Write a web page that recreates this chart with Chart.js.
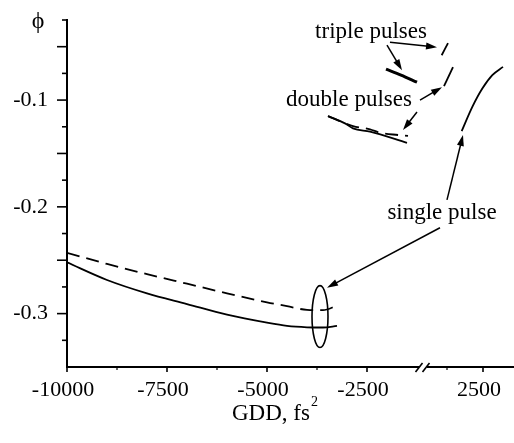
<!DOCTYPE html>
<html lang="en">
<head>
<meta charset="UTF-8">
<title>Phase vs GDD</title>
<script src="https://cdn.jsdelivr.net/npm/chart.js@4.4.0/dist/chart.umd.min.js"></script>
<style>
  body { margin: 0; background: #fff; }
  #chart-container { width: 514px; height: 443px; }
</style>
</head>
<body>
<div id="chart-container"><canvas id="myChart" width="514" height="443"></canvas></div>
<script>
// single pulse branch, negative GDD side (fs^2) and phase
const singleGdd = [-10000, -9000, -8000, -7000, -6000, -5000, -4500, -4000, -3600, -3250];
const singleSolid = [-0.252, -0.2685, -0.281, -0.291, -0.301, -0.3085, -0.3115, -0.3128, -0.313, -0.3115];
const singleDashed = [-0.243, -0.2535, -0.263, -0.272, -0.281, -0.2895, -0.293, -0.2965, -0.2968, -0.2925];
// single pulse branch, positive GDD side
const singleRightGdd = [1967, 2233, 2483, 2733, 3000];
const singleRight = [-0.129, -0.1063, -0.0891, -0.0766, -0.0689];
// double pulses
const doubleSolidGdd = [-3475, -3050, -2850, -2425, -1500];
const doubleSolid = [-0.115, -0.1218, -0.1265, -0.1296, -0.140];
const doubleDashedGdd = [-3475, -2850, -2425, -2175, -1725, -1475];
const doubleDashed = [-0.115, -0.1243, -0.1274, -0.1306, -0.1327, -0.1336];
const doubleRightGdd = [1525, 1750];
const doubleRight = [-0.0869, -0.0692];
// triple pulses
const tripleGdd = [-2025, -1650, -1250];
const triple = [-0.071, -0.0766, -0.0832];
const tripleRightGdd = [1467, 1625];
const tripleRight = [-0.058, -0.0467];

// axis ticks
const xTickValues = [-10000, -7500, -5000, -2500, 2500];
const xMinorTicks = [-8750, -6250, -3750, 1600];
const yTickValues = [-0.3, -0.2, -0.1];

// the x axis is broken between -1100 and 1000 fs^2
const BREAK_AT = -1100;
const BREAK_SHIFT = 2100;
const disp = g => (g < 0 ? g : g - BREAK_SHIFT);
const real = d => (d > BREAK_AT ? d + BREAK_SHIFT : d);

// labels with arrows: [text, gdd, phi]
const labels = [
  ['triple pulses', -2400, -0.0364],
  ['double pulses', -2950, -0.1],
  ['single pulse', 1475, -0.2056]
];
// arrows: [fromGdd, fromPhi, toGdd, toPhi]
const arrows = [
  [-1925, -0.0458, 1350, -0.0505],
  [-2000, -0.0486, -1625, -0.072],
  [-1175, -0.1, 1475, -0.0879],
  [-1250, -0.1112, -1600, -0.128],
  [1425, -0.2196, -3500, -0.2757],
  [1600, -0.1935, 2000, -0.1327]
];
// ellipse around the end of the single pulse branch: [gdd, phi, halfWidthGdd, halfHeightPhi]
const ring = [-3675, -0.3028, 200, 0.029];

const pts = (xs, ys) => xs.map((g, i) => ({ x: disp(g), y: ys[i] }));
const FONT = '"Liberation Serif", "DejaVu Serif", serif';

function line(data, opts) {
  return Object.assign({
    data: data,
    borderColor: '#000',
    borderWidth: 1.8,
    pointRadius: 0,
    fill: false,
    tension: 0.4,
    cubicInterpolationMode: 'monotone'
  }, opts || {});
}

const decor = {
  id: 'decor',
  afterDraw(chart) {
    const ctx = chart.ctx;
    const xs = chart.scales.x, ys = chart.scales.y;
    const { left, right, top, bottom } = chart.chartArea;
    const px = g => xs.getPixelForValue(disp(g));
    const py = v => ys.getPixelForValue(v);
    ctx.save();
    ctx.strokeStyle = '#000';
    ctx.fillStyle = '#000';

    // y ticks every 0.025, longer every 0.05
    ctx.lineWidth = 1.6;
    for (let k = 1; k < 14; k++) {
      const y = py(-k * 0.025);
      const len = k % 2 === 0 ? 10 : 5;
      ctx.beginPath();
      ctx.moveTo(left - len, y);
      ctx.lineTo(left, y);
      ctx.stroke();
    }
    // x ticks
    xTickValues.forEach(g => {
      ctx.beginPath();
      ctx.moveTo(px(g), bottom);
      ctx.lineTo(px(g), bottom + 5);
      ctx.stroke();
    });
    ctx.lineWidth = 1.2;
    xMinorTicks.forEach(g => {
      ctx.beginPath();
      ctx.moveTo(px(g), bottom);
      ctx.lineTo(px(g), bottom + 3);
      ctx.stroke();
    });

    // axis break marks
    const bx = xs.getPixelForValue(BREAK_AT);
    ctx.fillStyle = '#fff';
    ctx.fillRect(bx - 4, bottom - 3, 8, 6);
    ctx.fillStyle = '#000';
    ctx.lineWidth = 1.6;
    [-3.5, 3.5].forEach(o => {
      ctx.beginPath();
      ctx.moveTo(bx + o - 4, bottom + 5);
      ctx.lineTo(bx + o + 3, bottom - 4);
      ctx.stroke();
    });

    // ellipse
    const cx = px(ring[0]), cy = py(ring[1]);
    const rx = Math.abs(px(ring[0] + ring[2]) - cx);
    const ry = Math.abs(py(ring[1] + ring[3]) - cy);
    ctx.lineWidth = 1.6;
    ctx.beginPath();
    ctx.ellipse(cx, cy, rx, ry, 0, 0, Math.PI * 2);
    ctx.stroke();

    // arrows
    arrows.forEach(a => {
      const x1 = px(a[0]), y1 = py(a[1]), x2 = px(a[2]), y2 = py(a[3]);
      const ang = Math.atan2(y2 - y1, x2 - x1);
      const hl = 11, hw = 3.5;
      ctx.lineWidth = 1.5;
      ctx.beginPath();
      ctx.moveTo(x1, y1);
      ctx.lineTo(x2 - hl * 0.8 * Math.cos(ang), y2 - hl * 0.8 * Math.sin(ang));
      ctx.stroke();
      ctx.beginPath();
      ctx.moveTo(x2, y2);
      ctx.lineTo(x2 - hl * Math.cos(ang) + hw * Math.sin(ang), y2 - hl * Math.sin(ang) - hw * Math.cos(ang));
      ctx.lineTo(x2 - hl * Math.cos(ang) - hw * Math.sin(ang), y2 - hl * Math.sin(ang) + hw * Math.cos(ang));
      ctx.closePath();
      ctx.fill();
    });

    // text labels
    ctx.font = '23px ' + FONT;
    ctx.textAlign = 'center';
    ctx.textBaseline = 'middle';
    labels.forEach(l => {
      ctx.fillStyle = '#fff';
      const w = ctx.measureText(l[0]).width;
      ctx.fillRect(px(l[1]) - w / 2, py(l[2]) - 8, w, 16);
      ctx.fillStyle = '#000';
      ctx.fillText(l[0], px(l[1]), py(l[2]));
    });

    // axis titles
    ctx.font = '24px ' + FONT;
    ctx.fillText('\u03d5', 38, 22);
    ctx.font = '23px ' + FONT;
    ctx.textAlign = 'left';
    ctx.textBaseline = 'alphabetic';
    const tx = (left + right) / 2 - 58;
    ctx.fillText('GDD, fs', tx, 420);
    const tw = ctx.measureText('GDD, fs').width;
    ctx.font = '14px ' + FONT;
    ctx.fillText('2', tx + tw + 1, 406);
    ctx.restore();
  }
};

new Chart(document.getElementById('myChart'), {
  type: 'line',
  data: {
    datasets: [
      line(pts(singleGdd, singleSolid)),
      line(pts(singleGdd, singleDashed), { borderDash: [13, 7] }),
      line(pts(singleRightGdd, singleRight)),
      line(pts(doubleSolidGdd, doubleSolid)),
      line(pts(doubleDashedGdd, doubleDashed), { borderDash: [13, 7] }),
      line(pts(doubleRightGdd, doubleRight)),
      line(pts(tripleGdd, triple), { borderWidth: 3 }),
      line(pts(tripleRightGdd, tripleRight))
    ]
  },
  options: {
    responsive: false,
    animation: false,
    layout: { padding: { top: 20, right: 1, left: 0, bottom: 0 } },
    plugins: { legend: { display: false }, tooltip: { enabled: false } },
    scales: {
      x: {
        type: 'linear',
        min: -10000,
        max: 1150,
        grid: { display: true, drawOnChartArea: false, drawTicks: false },
        border: { display: true, color: '#000', width: 2 },
        afterBuildTicks: s => { s.ticks = xTickValues.map(g => ({ value: disp(g) })); },
        afterFit: s => { s.height = 76; s.paddingLeft = 0; s.paddingRight = 0; },
        ticks: {
          autoSkip: false,
          maxRotation: 0,
          padding: 10,
          labelOffset: -4,
          color: '#000',
          font: { family: FONT, size: 22 },
          callback: v => String(real(v))
        }
      },
      y: {
        min: -0.35,
        max: -0.025,
        grid: { display: true, drawOnChartArea: false, drawTicks: false },
        border: { display: true, color: '#000', width: 2 },
        afterBuildTicks: s => { s.ticks = yTickValues.map(v => ({ value: v })); },
        afterFit: s => { s.width = 67; s.paddingTop = 0; s.paddingBottom = 0; },
        ticks: {
          padding: 19,
          color: '#000',
          font: { family: FONT, size: 22 },
          callback: v => v.toFixed(1)
        }
      }
    }
  },
  plugins: [decor]
});
</script>
</body>
</html>
